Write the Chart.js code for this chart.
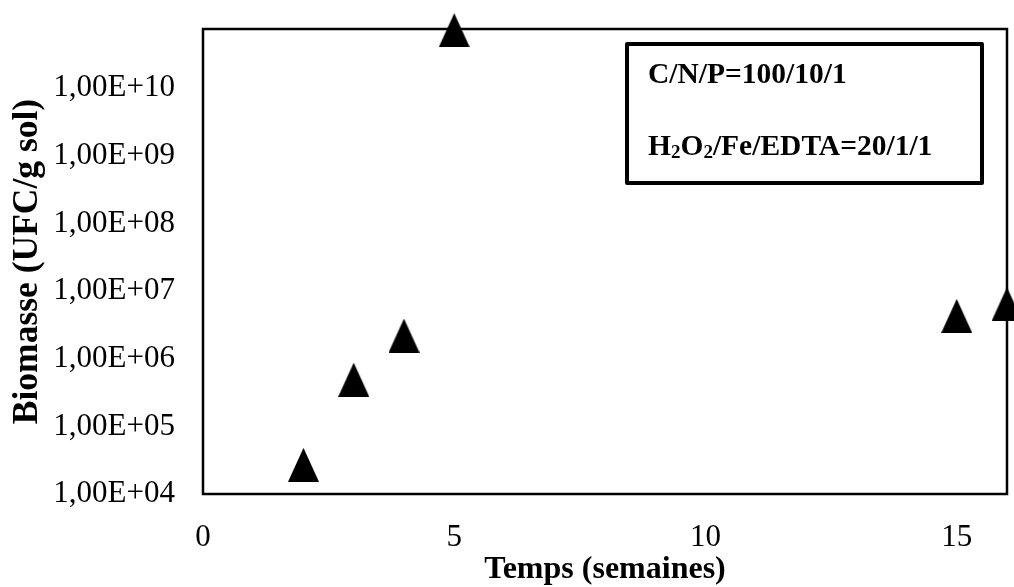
<!DOCTYPE html>
<html>
<head>
<meta charset="utf-8">
<script src="https://cdn.jsdelivr.net/npm/chart.js@4/dist/chart.umd.min.js"></script>
<style>
  html, body { margin: 0; padding: 0; background: #fff; }
  #wrap { width: 1014px; height: 587px; }
</style>
</head>
<body>
<div id="wrap"><canvas id="c" width="1014" height="587"></canvas></div>
<script>
// Time in weeks and measured biomass (CFU per g of soil)
const weeks = [2, 3, 4, 5, 15, 16];
const biomass = [2.7e4, 4.9e5, 2.2e6, 7.2e10, 4.3e6, 6.4e6];

// Axis ticks
const xTicks = [0, 5, 10, 15];
const yTicks = [1e4, 1e5, 1e6, 1e7, 1e8, 1e9, 1e10];

// Text shown in the boxed note
const noteLine1 = 'C/N/P=100/10/1';
const noteLine2 = [['H', false], ['2', true], ['O', false], ['2', true], ['/Fe/EDTA=20/1/1', false]];

const FONT = '"Liberation Serif", "Times New Roman", serif';

// Filled triangle marker
function triangleMarker(w, h) {
  const cv = document.createElement('canvas');
  cv.width = w; cv.height = h;
  const g = cv.getContext('2d');
  g.fillStyle = '#000';
  g.beginPath();
  g.moveTo(w / 2, 0);
  g.lineTo(w, h);
  g.lineTo(0, h);
  g.closePath();
  g.fill();
  return cv;
}
const marker = triangleMarker(31, 34);

function sciLabel(v) {
  const e = Math.round(Math.log10(v));
  return '1,00E+' + String(e).padStart(2, '0');
}

const framePlugin = {
  id: 'frame',
  beforeDatasetsDraw(chart) {
    const a = chart.chartArea;
    const ctx = chart.ctx;
    ctx.save();
    ctx.strokeStyle = '#000';
    ctx.lineWidth = 2.5;
    ctx.strokeRect(a.left, a.top, a.right - a.left, a.bottom - a.top);
    ctx.restore();
  }
};

const notePlugin = {
  id: 'note',
  afterDraw(chart) {
    const a = chart.chartArea;
    const ctx = chart.ctx;
    const bx = a.left + 424, by = a.top + 15, bw = 355, bh = 139;
    ctx.save();
    ctx.strokeStyle = '#000';
    ctx.lineWidth = 4;
    ctx.lineJoin = 'round';
    ctx.strokeRect(bx, by, bw, bh);
    ctx.fillStyle = '#000';
    ctx.textBaseline = 'alphabetic';
    ctx.textAlign = 'left';
    ctx.font = 'bold 29.5px ' + FONT;
    const tx = bx + 21;
    ctx.fillText(noteLine1, tx, by + 39);
    let x = tx;
    const base = by + 111;
    noteLine2.forEach(([s, sub]) => {
      ctx.font = (sub ? 'bold 19px ' : 'bold 29.5px ') + FONT;
      ctx.fillText(s, x, sub ? base + 3 : base);
      x += ctx.measureText(s).width;
    });
    ctx.restore();
  }
};

new Chart(document.getElementById('c'), {
  type: 'scatter',
  data: {
    datasets: [{
      data: weeks.map((w, i) => ({ x: w, y: biomass[i] })),
      pointStyle: marker,
      pointRadius: 17,
      pointHoverRadius: 17,
      backgroundColor: '#000',
      borderColor: '#000',
      clip: false
    }]
  },
  options: {
    responsive: false,
    animation: false,
    events: [],
    layout: { autoPadding: false, padding: { left: 0, top: 29, right: 7, bottom: 0 } },
    plugins: { legend: { display: false }, tooltip: { enabled: false } },
    scales: {
      x: {
        type: 'linear',
        min: 0,
        max: 16,
        grid: { display: false, drawTicks: false },
        border: { display: false },
        afterBuildTicks(scale) { scale.ticks = xTicks.map(v => ({ value: v })); },
        afterFit(scale) {
          scale.height = 93;
          scale.paddingLeft = 0; scale.paddingRight = 0;
        },
        ticks: {
          color: '#000',
          padding: 25,
          maxRotation: 0,
          font: { family: FONT, size: 31 },
          callback: v => String(v)
        },
        title: {
          display: true,
          text: 'Temps (semaines)',
          color: '#000',
          font: { family: FONT, size: 32, weight: 'bold', lineHeight: 1 },
          padding: { top: 0, bottom: 1 }
        }
      },
      y: {
        type: 'logarithmic',
        min: 1e4,
        max: 7.5e10,
        grid: { display: false, drawTicks: false },
        border: { display: false },
        afterBuildTicks(scale) { scale.ticks = yTicks.map(v => ({ value: v })); },
        afterFit(scale) {
          scale.width = 203;
          scale.paddingTop = 0; scale.paddingBottom = 0;
        },
        ticks: {
          color: '#000',
          padding: 28,
          font: { family: FONT, size: 31 },
          callback: v => sciLabel(v)
        },
        title: {
          display: true,
          text: 'Biomasse (UFC/g sol)',
          color: '#000',
          font: { family: FONT, size: 35.5, weight: 'bold', lineHeight: 1 },
          padding: { top: 10, bottom: 0 }
        }
      }
    }
  },
  plugins: [framePlugin, notePlugin]
});
</script>
</body>
</html>
